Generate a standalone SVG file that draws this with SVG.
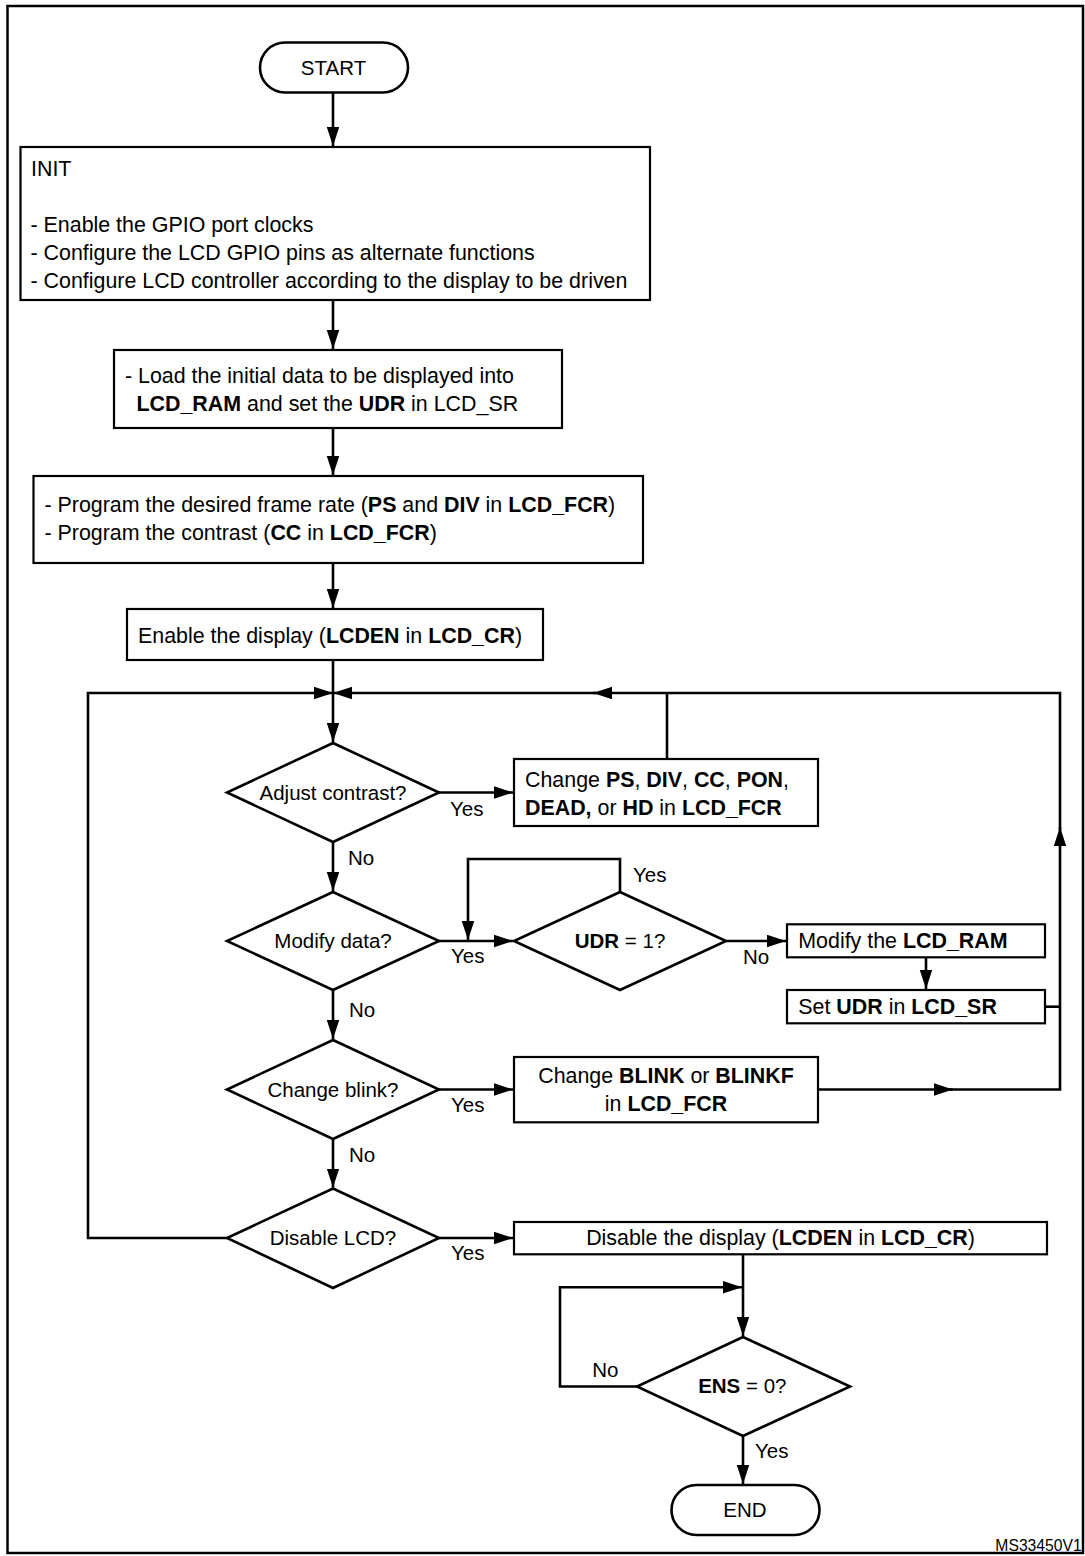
<svg xmlns="http://www.w3.org/2000/svg" width="1085" height="1556" viewBox="0 0 1085 1556">
<style>
text{font-family:"Liberation Sans",Arial,sans-serif;fill:#000}
.bt{font-size:21.4px}
.dt{font-size:20.5px}
.lb{font-size:20.5px}
.c{text-anchor:middle}
b,.b{font-weight:bold}
.box{fill:#fff;stroke:#000;stroke-width:2.2}
.dia{fill:#fff;stroke:#000;stroke-width:2.6}
.term{fill:#fff;stroke:#000;stroke-width:2.6}
.ln{fill:none;stroke:#000;stroke-width:2.6}
.arr{marker-end:url(#ah)}
</style>
<defs>
<marker id="ah" markerUnits="userSpaceOnUse" markerWidth="20" markerHeight="13" refX="19" refY="6.25" orient="auto">
<path d="M0,0 L19,6.25 L0,12.5 Z" fill="#000"/>
</marker>
</defs>
<rect x="0" y="0" width="1085" height="1556" fill="#fff"/>
<rect id="frame" x="7.5" y="6" width="1075.5" height="1547" fill="none" stroke="#000" stroke-width="2.5"/>

<g id="connectors">
<path class="ln arr" d="M333,93 V146"/>
<path class="ln arr" d="M333,300 V349"/>
<path class="ln arr" d="M333,428 V475"/>
<path class="ln arr" d="M333,563 V608"/>
<path class="ln arr" d="M333,660 V742"/>
<path class="ln arr" d="M227,1238 H88 V693 H333"/>
<path class="ln arr" d="M818,1089.5 H953"/>
<path class="ln arr" d="M950,1089.5 H1060 V827"/>
<path class="ln arr" d="M1060,830 V693 H593"/>
<path class="ln arr" d="M596,693 H333"/>
<path class="ln" d="M667,759 V693"/>
<path class="ln" d="M1045,1006.7 H1060"/>
<path class="ln arr" d="M439,792.5 H513"/>
<path class="ln arr" d="M333,842 V891"/>
<path class="ln arr" d="M439,941 H513"/>
<path class="ln arr" d="M620,892 V859 H468 V940"/>
<path class="ln arr" d="M726,941 H786"/>
<path class="ln arr" d="M926,957 V989"/>
<path class="ln arr" d="M333,990 V1039"/>
<path class="ln arr" d="M439,1089.5 H513"/>
<path class="ln arr" d="M333,1139 V1187.5"/>
<path class="ln arr" d="M439,1238 H513"/>
<path class="ln arr" d="M743,1254 V1336"/>
<path class="ln arr" d="M637,1386.5 H560 V1287.3 H742"/>
<path class="ln arr" d="M743,1436 V1484"/>
</g>

<g id="start">
<rect class="term" x="260" y="42.5" width="148" height="50" rx="25" ry="25"/>
<text class="dt c" x="333.5" y="75">START</text>
</g>

<g id="init">
<rect class="box" x="20.5" y="147" width="629.5" height="153"/>
<text class="bt" x="31" y="175.7">INIT</text>
<text class="bt" x="30.5" y="232">- Enable the GPIO port clocks</text>
<text class="bt" x="30.5" y="260">- Configure the LCD GPIO pins as alternate functions</text>
<text class="bt" x="30.5" y="288">- Configure LCD controller according to the display to be driven</text>
</g>

<g id="load">
<rect class="box" x="114" y="350" width="448" height="78"/>
<text class="bt" x="125" y="382.5">- Load the initial data to be displayed into</text>
<text class="bt" x="136.5" y="410.5"><tspan class="b">LCD_RAM</tspan> and set the <tspan class="b">UDR</tspan> in LCD_SR</text>
</g>

<g id="program">
<rect class="box" x="33.5" y="476" width="609.5" height="87"/>
<text class="bt" x="44.5" y="512.3">- Program the desired frame rate (<tspan class="b">PS</tspan> and <tspan class="b">DIV</tspan> in <tspan class="b">LCD_FCR</tspan>)</text>
<text class="bt" x="44.5" y="540">- Program the contrast (<tspan class="b">CC</tspan> in <tspan class="b">LCD_FCR</tspan>)</text>
</g>

<g id="enable">
<rect class="box" x="127" y="609" width="416" height="51"/>
<text class="bt" x="138" y="642.7">Enable the display (<tspan class="b">LCDEN</tspan> in <tspan class="b">LCD_CR</tspan>)</text>
</g>

<g id="d-adjust">
<polygon class="dia" points="333,743 439,792.5 333,842 227,792.5"/>
<text class="dt c" x="333" y="800">Adjust contrast?</text>
<text class="lb" x="450" y="815.7">Yes</text>
<text class="lb" x="348" y="865">No</text>
</g>

<g id="change-fcr">
<rect class="box" x="514" y="759" width="304" height="67"/>
<text class="bt" x="525" y="786.7">Change <tspan class="b">PS</tspan>, <tspan class="b">DIV</tspan>, <tspan class="b">CC</tspan>, <tspan class="b">PON</tspan>,</text>
<text class="bt" x="525" y="815"><tspan class="b">DEAD,</tspan> or <tspan class="b">HD</tspan> in <tspan class="b">LCD_FCR</tspan></text>
</g>

<g id="d-modify">
<polygon class="dia" points="333,892 439,941 333,990 227,941"/>
<text class="dt c" x="333" y="948.3">Modify data?</text>
<text class="lb" x="451" y="963">Yes</text>
<text class="lb" x="349" y="1016.7">No</text>
</g>

<g id="d-udr">
<polygon class="dia" points="620,892 726,941 620,990 514,941"/>
<text class="dt c" x="620" y="948.3"><tspan class="b">UDR</tspan> = 1?</text>
<text class="lb" x="633" y="881.7">Yes</text>
<text class="lb" x="743" y="964">No</text>
</g>

<g id="modify-ram">
<rect class="box" x="787" y="924.3" width="258" height="33"/>
<text class="bt" x="798.3" y="948">Modify the <tspan class="b">LCD_RAM</tspan></text>
</g>

<g id="set-udr">
<rect class="box" x="787" y="990" width="258" height="33.3"/>
<text class="bt" x="798.3" y="1014">Set <tspan class="b">UDR</tspan> in <tspan class="b">LCD_SR</tspan></text>
</g>

<g id="d-blink">
<polygon class="dia" points="333,1040 439,1089.5 333,1139 227,1089.5"/>
<text class="dt c" x="333" y="1096.8">Change blink?</text>
<text class="lb" x="451" y="1112">Yes</text>
<text class="lb" x="349" y="1161.7">No</text>
</g>

<g id="change-blink">
<rect class="box" x="514" y="1057" width="304" height="65.3"/>
<text class="bt c" x="666" y="1082.7">Change <tspan class="b">BLINK</tspan> or <tspan class="b">BLINKF</tspan></text>
<text class="bt c" x="666" y="1110.7">in <tspan class="b">LCD_FCR</tspan></text>
</g>

<g id="d-disable">
<polygon class="dia" points="333,1188.5 439,1238 333,1288 227,1238"/>
<text class="dt c" x="333" y="1245.4">Disable LCD?</text>
<text class="lb" x="451" y="1260">Yes</text>
</g>

<g id="disable">
<rect class="box" x="514" y="1222" width="533" height="32.3"/>
<text class="bt c" x="780.5" y="1245">Disable the display (<tspan class="b">LCDEN</tspan> in <tspan class="b">LCD_CR</tspan>)</text>
</g>

<g id="d-ens">
<polygon class="dia" points="743,1337 850,1386.5 743,1436 637,1386.5"/>
<text class="dt c" x="742.3" y="1392.7"><tspan class="b">ENS</tspan> = 0?</text>
<text class="lb" x="592.3" y="1376.7">No</text>
<text class="lb" x="755" y="1458.3">Yes</text>
</g>

<g id="end">
<rect class="term" x="671.5" y="1485" width="148" height="50" rx="25" ry="25"/>
<text class="dt c" x="745" y="1516.7">END</text>
</g>

<text x="1081.7" y="1550.7" style="font-size:15.7px;text-anchor:end">MS33450V1</text>
</svg>
